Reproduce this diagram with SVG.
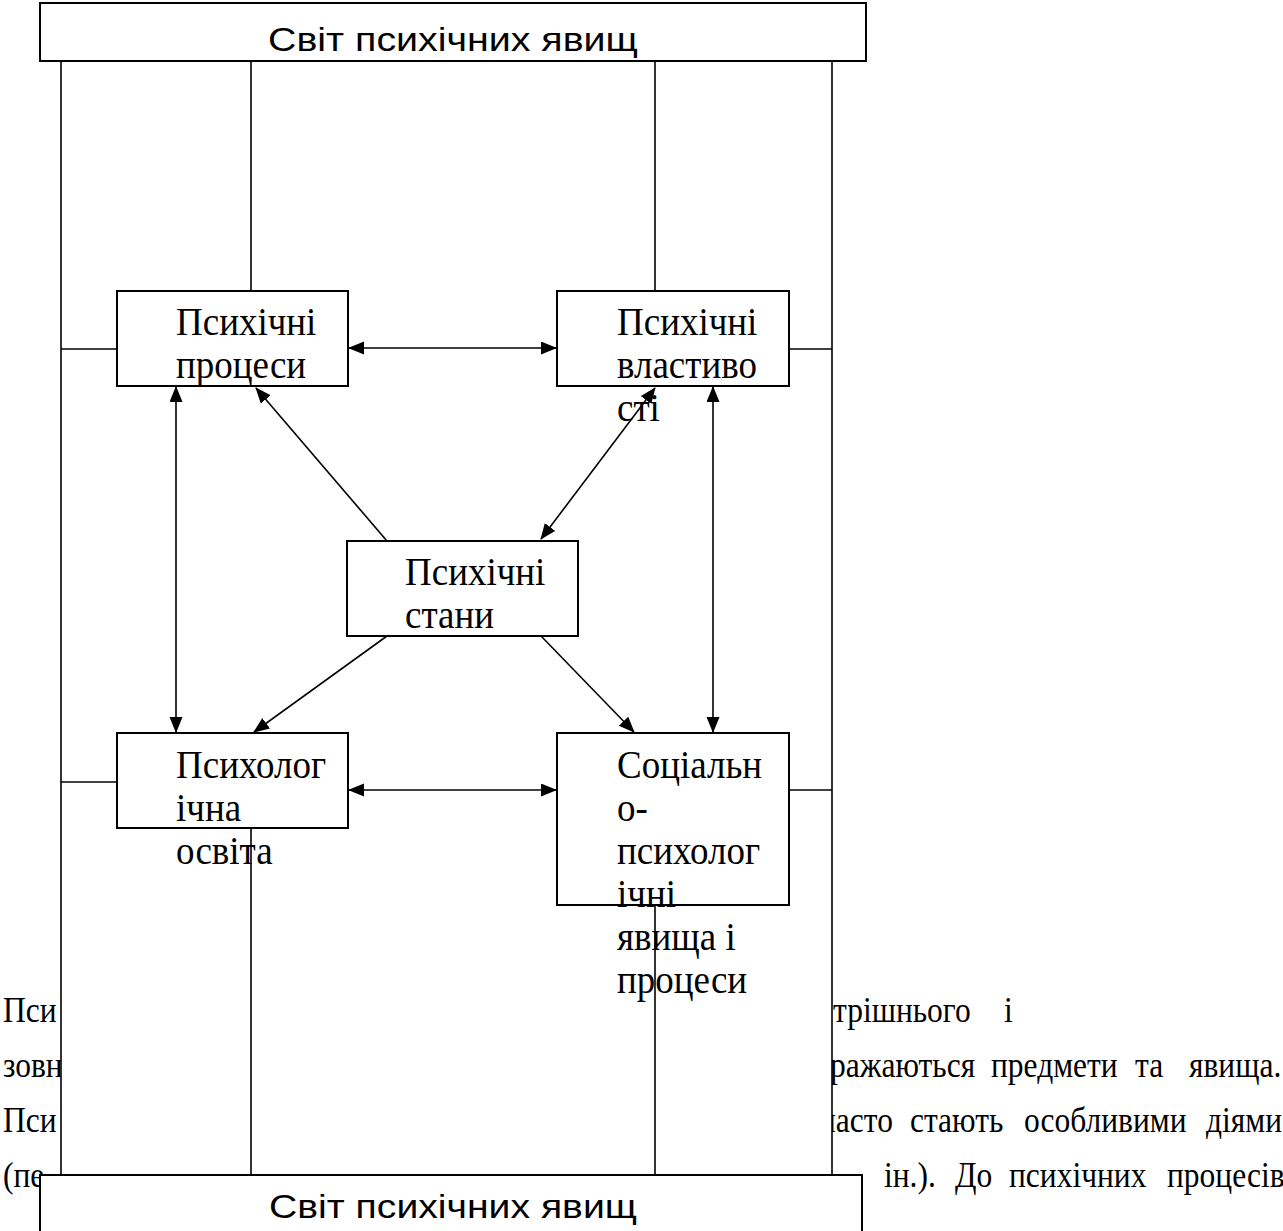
<svg xmlns="http://www.w3.org/2000/svg" width="1283" height="1231" viewBox="0 0 1283 1231">
<defs>
<marker id="ah" markerUnits="userSpaceOnUse" markerWidth="16" markerHeight="14" refX="15" refY="6.5" orient="auto-start-reverse" viewBox="0 0 16 14">
<path d="M0,0 L16,6.5 L0,13 z" fill="#000"/>
</marker>
<style>
.box{fill:#fff;stroke:#000;stroke-width:2}
.ln{stroke:#000;stroke-width:1.6;fill:none}
.ar{stroke:#000;stroke-width:1.6;fill:none;marker-end:url(#ah)}
.ar2{stroke:#000;stroke-width:1.6;fill:none;marker-start:url(#ah);marker-end:url(#ah)}
.nt{font-family:"Liberation Serif","Times New Roman",serif;font-size:40px;fill:#000}
.bt{font-family:"Liberation Serif","Times New Roman",serif;font-size:35px;fill:#000}
.hd{font-family:"Liberation Sans",Arial,sans-serif;font-size:34px;fill:#000}
</style>
</defs>
<rect x="0" y="0" width="1283" height="1231" fill="#fff"/>

<g id="body-text" class="bt">
<text transform="matrix(0.9 0 0 1 3 1022)">Пси</text>
<text transform="matrix(0.9 0 0 1 833 1022)">трішнього</text>
<text transform="matrix(0.9 0 0 1 1004 1022)">і</text>
<text transform="matrix(0.9 0 0 1 3 1077)">зовн</text>
<text transform="matrix(0.9 0 0 1 830 1077)">ражаються</text>
<text transform="matrix(0.9 0 0 1 991 1077)">предмети</text>
<text transform="matrix(0.9 0 0 1 1135 1077)">та</text>
<text transform="matrix(0.9 0 0 1 1189 1077)">явища.</text>
<text transform="matrix(0.9 0 0 1 3 1132)">Пси</text>
<text transform="matrix(0.9 0 0 1 820 1132)">часто</text>
<text transform="matrix(0.9 0 0 1 910 1132)">стають</text>
<text transform="matrix(0.9 0 0 1 1024 1132)">особливими</text>
<text transform="matrix(0.9 0 0 1 1206 1132)">діями</text>
<text transform="matrix(0.9 0 0 1 3 1187)">(пе</text>
<text transform="matrix(0.9 0 0 1 884 1187)">ін.).</text>
<text transform="matrix(0.9 0 0 1 955 1187)">До</text>
<text transform="matrix(0.9 0 0 1 1009 1187)">психічних</text>
<text transform="matrix(0.9 0 0 1 1167 1187)">процесів</text>
</g>

<rect x="61" y="61" width="771" height="1114" fill="#fff"/>

<g id="connectors">
<line class="ln" x1="61" y1="61" x2="61" y2="1175"/>
<line class="ln" x1="832" y1="61" x2="832" y2="1175"/>
<line class="ln" x1="251" y1="61" x2="251" y2="291"/>
<line class="ln" x1="655" y1="61" x2="655" y2="291"/>
<line class="ln" x1="61" y1="349" x2="117" y2="349"/>
<line class="ln" x1="789" y1="349" x2="832" y2="349"/>
<line class="ln" x1="61" y1="782" x2="117" y2="782"/>
<line class="ln" x1="789" y1="790" x2="832" y2="790"/>
<line class="ln" x1="251" y1="828" x2="251" y2="1175"/>
<line class="ln" x1="655" y1="905" x2="655" y2="1175"/>
<line class="ar2" x1="349" y1="348" x2="556" y2="348"/>
<line class="ar2" x1="349" y1="790" x2="556" y2="790"/>
<line class="ar2" x1="176" y1="387" x2="176" y2="732"/>
<line class="ar2" x1="713" y1="387" x2="713" y2="732"/>
<line class="ar" x1="387" y1="541" x2="256" y2="388"/>
<line class="ar2" x1="541" y1="539" x2="655" y2="388"/>
<line class="ar" x1="387" y1="636" x2="254" y2="732"/>
<line class="ar" x1="541" y1="636" x2="634" y2="732"/>
</g>

<g id="top-bar">
<rect class="box" x="40" y="3" width="826" height="58"/>
<text class="hd" x="453" y="51" text-anchor="middle" textLength="370" lengthAdjust="spacingAndGlyphs">Світ психічних явищ</text>
</g>

<g id="node-processes" class="nt">
<rect class="box" x="117" y="291" width="231" height="95"/>
<text transform="matrix(0.925 0 0 1 176 335)">Психічні</text>
<text transform="matrix(0.925 0 0 1 176 378)">процеси</text>
</g>

<g id="node-properties" class="nt">
<rect class="box" x="557" y="291" width="232" height="95"/>
<text transform="matrix(0.925 0 0 1 617 335)">Психічні</text>
<text transform="matrix(0.925 0 0 1 617 378)">властиво</text>
<text transform="matrix(0.925 0 0 1 617 421)">сті</text>
</g>

<g id="node-states" class="nt">
<rect class="box" x="347" y="541" width="231" height="95"/>
<text transform="matrix(0.925 0 0 1 405 585)">Психічні</text>
<text transform="matrix(0.925 0 0 1 405 628)">стани</text>
</g>

<g id="node-education" class="nt">
<rect class="box" x="117" y="733" width="231" height="95"/>
<text transform="matrix(0.925 0 0 1 176 778)">Психолог</text>
<text transform="matrix(0.925 0 0 1 176 821)">ічна</text>
<text transform="matrix(0.925 0 0 1 176 864)">освіта</text>
</g>

<g id="node-social" class="nt">
<rect class="box" x="557" y="733" width="232" height="172"/>
<text transform="matrix(0.925 0 0 1 617 778)">Соціальн</text>
<text transform="matrix(0.925 0 0 1 617 821)">о-</text>
<text transform="matrix(0.925 0 0 1 617 864)">психолог</text>
<text transform="matrix(0.925 0 0 1 617 907)">ічні</text>
<text transform="matrix(0.925 0 0 1 617 950)">явища і</text>
<text transform="matrix(0.925 0 0 1 617 993)">процеси</text>
</g>

<g id="bottom-bar">
<rect class="box" x="40" y="1175" width="822" height="70"/>
<text class="hd" x="453" y="1218" text-anchor="middle" textLength="368" lengthAdjust="spacingAndGlyphs">Світ психічних явищ</text>
</g>
</svg>
